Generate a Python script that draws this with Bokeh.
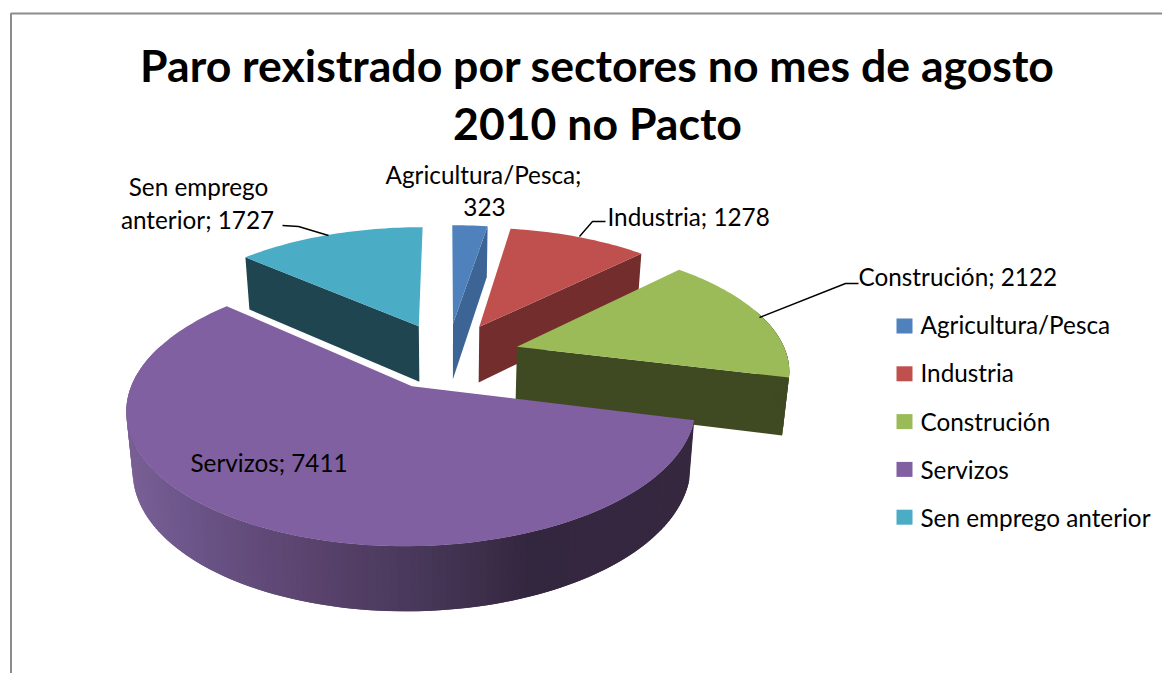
import math
from bokeh.plotting import figure
from bokeh.models import Range1d, ColumnDataSource
from bokeh.core.properties import value
from bokeh.embed import file_html
from bokeh.resources import INLINE

# ---- data ----
sectors = ["Agricultura/Pesca", "Industria", "Construción", "Servizos", "Sen emprego anterior"]
paro = [323, 1278, 2122, 7411, 1727]
top_colors = ["#4f81bd", "#c0504d", "#9bbb59", "#8060a0", "#4bacc6"]
wall_colors = ["#3c6596", "#722d2c", "#3f4a22", "#35283f", "#1f4550"]
title_lines = ["Paro rexistrado por sectores no mes de agosto", "2010 no Pacto"]

# ---- projection of the exploded 3D pie (page-pixel units) ----
CX, CY, RX, RY = 447.0, 355.0, 270.0, 123.5
PERSP, EXPLODE, DEPTH, PERSP_Z, SHRINK = 0.16, 0.27, 57.0, 0.10, 0.98
DRAW_ORDER = [0, 4, 1, 2, 3]
SHADE = [(128, (122, 96, 149)), (200, (106, 84, 136)), (300, (92, 69, 112)),
         (400, (76, 58, 94)), (480, (62, 47, 76)), (530, (51, 38, 63)), (700, (53, 40, 63))]


def project(u, v, lower=False):
    s = 1 + PERSP * v
    x = CX + RX * u / s
    y = CY - RY * v / s
    if lower:
        x = CX + (x - CX) * SHRINK
        y += DEPTH / (1 + PERSP_Z * v)
    return x, y


def shade(x):
    for (x0, c0), (x1, c1) in zip(SHADE, SHADE[1:]):
        if x <= x1:
            t = max(0.0, (x - x0) / (x1 - x0))
            return "#%02x%02x%02x" % tuple(round(a + (b - a) * t) for a, b in zip(c0, c1))
    return "#%02x%02x%02x" % SHADE[-1][1]


total = sum(paro)
spans = []
acc = 0.0
for val in paro:
    a0 = acc / total * 2 * math.pi
    acc += val
    spans.append((a0, acc / total * 2 * math.pi))

xs, ys, cols = [], [], []


def add(poly, col):
    xs.append([q[0] for q in poly])
    ys.append([q[1] for q in poly])
    cols.append(col)


for i in DRAW_ORDER:
    a0, a1 = spans[i]
    mid = (a0 + a1) / 2
    ou, ov = EXPLODE * math.sin(mid), EXPLODE * math.cos(mid)
    n = max(6, int((a1 - a0) / math.radians(1.2)))
    rim = [(ou + math.sin(a0 + (a1 - a0) * k / n), ov + math.cos(a0 + (a1 - a0) * k / n)) for k in range(n + 1)]
    # only the cut faces turned towards the viewer are drawn
    if math.sin(a0) < -1e-9:
        add([project(ou, ov), project(*rim[0]), project(*rim[0], True), project(ou, ov, True)], wall_colors[i])
    if math.sin(a1) > 1e-9:
        add([project(ou, ov), project(*rim[-1]), project(*rim[-1], True), project(ou, ov, True)], wall_colors[i])
    # rim wall: each band runs two steps on and is overpainted by the next, so no seams show
    for k in range(n - 1, -1, -1):
        q0, q1 = rim[k], rim[min(k + 2, n)]
        if math.cos(a0 + (a1 - a0) * k / n) > 0.3 and math.cos(a0 + (a1 - a0) * (k + 1) / n) > 0.3:
            continue
        poly = [project(*q0), project(*q1), project(*q1, True), project(*q0, True)]
        col = shade(sum(pt[0] for pt in poly) / 4) if i == 3 else wall_colors[i]
        add(poly, col)
    add([project(ou, ov)] + [project(*q) for q in rim], top_colors[i])

p = figure(width=1162, height=673, x_range=Range1d(0, 1162), y_range=Range1d(673, 0),
           output_backend="svg", toolbar_location=None, min_border=0)
p.axis.visible = False
p.grid.visible = False
p.outline_line_color = None
p.background_fill_color = "white"
p.border_fill_color = "white"

# frame
p.line([10.5, 10.5, 1162], [673, 13, 13], line_color="#8c8c8c", line_width=2)

p.patches("xs", "ys", fill_color="cols", line_color=None,
          source=ColumnDataSource(dict(xs=xs, ys=ys, cols=cols)))

# leader lines
for lx, ly in [([579, 592, 605], [236, 221, 221]),
               ([759, 845, 858], [317, 283, 283]),
               ([282, 298, 328], [225, 226, 235])]:
    p.line(lx, ly, line_color="black", line_width=1.4)

FONT = value("Lato")
BASE_SHIFT = 0.38  # the alphabetic baseline lands this many font sizes low


def put(x, y, texts, size, align="left", style="normal"):
    y = [v - BASE_SHIFT * size for v in y]
    p.text(x, y, text=texts, text_font=FONT, text_font_size=f"{size}px", text_align=align,
           text_baseline="alphabetic", text_font_style=style, text_color="black")


# title
put([597, 597], [81, 139], title_lines, 44.6, "center", "bold")

# data labels
LABEL = 24.3
put([198], [195], ["Sen emprego"], LABEL, "center")
put([197], [228], [f"anterior; {paro[4]}"], LABEL, "center")
put([483], [183], [f"{sectors[0]};"], LABEL, "center")
put([484], [216], [f"{paro[0]}"], LABEL, "center")
put([607], [225], [f"{sectors[1]}; {paro[1]}"], LABEL)
put([858], [285], [f"{sectors[2]}; {paro[2]}"], LABEL)
put([190], [471], [f"{sectors[3]}; {paro[3]}"], LABEL)

# legend
for i, name in enumerate(sectors):
    p.quad(left=[896], right=[912], top=[318 + 47.8 * i], bottom=[333 + 47.8 * i],
           fill_color=top_colors[i], line_color=None)
    put([920], [333 + 48.4 * i], [name], LABEL)

open("out.html", "w").write(file_html(p, INLINE))
